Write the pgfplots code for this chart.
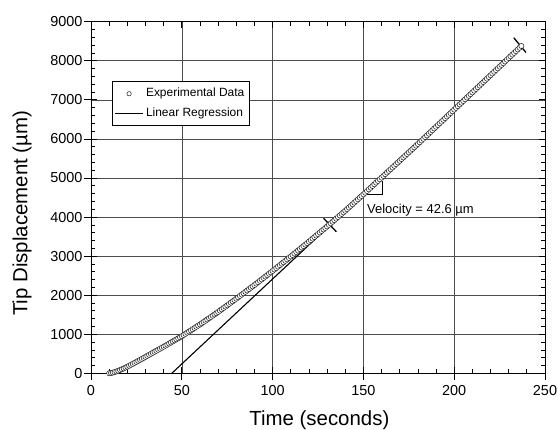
\documentclass[border=0pt]{standalone}
\usepackage{fontspec}
\setmainfont{Liberation Sans}
\usepackage{pgfplots}
\pgfplotsset{compat=1.18}
\begin{document}
\begin{tikzpicture}
\useasboundingbox (-91bp,-56.7bp) rectangle (467bp,373.3bp);
\begin{axis}[
  scale only axis, width=454bp, height=351.6bp,
  xmin=0, xmax=250, ymin=0, ymax=9000,
  xtick={0,50,...,250}, ytick={0,1000,...,9000},
  minor x tick num=4, minor y tick num=4,
  tick align=inside, major tick length=6bp, minor tick length=4bp,
  tick style={black, line width=0.7bp},
  axis line style={black, line width=0.9bp},
  grid=major, major grid style={black!70, line width=0.55bp},
  /pgf/number format/assume math mode=true,
  /pgf/number format/1000 sep={},
  tick label style={font=\fontsize{14.5}{16}\selectfont},
  yticklabel style={xshift=-5bp},
  xticklabel style={yshift=-8.5bp},
  xlabel={Time (seconds)}, ylabel={Tip Displacement (µm)},
  label style={font=\fontsize{20.5}{24}\selectfont},
  xlabel style={at={(axis description cs:0.503,-0.133)}, anchor=center},
  ylabel style={at={(axis description cs:-0.152,0.455)}, anchor=center},
  legend style={at={(rel axis cs:0.047,0.831)}, anchor=north west, draw=black, line width=0.6bp,
    font=\fontsize{12}{14}\selectfont, inner xsep=2bp, inner ysep=2.6bp, row sep=0bp, column sep=0bp,
    nodes={inner xsep=2.5bp, inner ysep=4bp, text height=8.9bp, text depth=2.5bp}},
  legend cell align=left,
]
\addplot[black, line width=1.1bp, forget plot] coordinates {(44.5,0) (238,8417)};
\addplot[only marks, mark=*, mark size=2.6bp, mark options={draw=black!85, fill=white, line width=0.55bp},
  legend image code/.code={\draw[mark repeat=2,mark phase=2,mark size=2.2bp] plot coordinates {(0bp,0bp) (14bp,0bp) (28bp,0bp)};}]
table {
t y
10 0
11 6
12 17
13 31
14 47
15 65
16 84
17 104
18 125
19 147
20 170
21 194
22 218
23 242
24 267
25 292
26 317
27 342
28 368
29 394
30 420
31 446
32 472
33 498
34 524
35 550
36 576
37 602
38 628
39 654
40 680
41 707
42 734
43 761
44 788
45 815
46 842
47 869
48 896
49 923
50 950
51 980
52 1010
53 1040
54 1070
55 1100
56 1130
57 1160
58 1190
59 1220
60 1250
61 1282
62 1314
63 1346
64 1378
65 1410
66 1442
67 1474
68 1506
69 1538
70 1570
71 1604
72 1638
73 1672
74 1706
75 1740
76 1774
77 1808
78 1842
79 1876
80 1910
81 1945
82 1980
83 2015
84 2050
85 2085
86 2120
87 2155
88 2190
89 2225
90 2260
91 2296
92 2332
93 2368
94 2404
95 2440
96 2476
97 2512
98 2548
99 2584
100 2620
101 2657
102 2694
103 2731
104 2768
105 2805
106 2842
107 2879
108 2916
109 2953
110 2990
111 3028
112 3066
113 3104
114 3142
115 3180
116 3218
117 3256
118 3294
119 3332
120 3370
121 3409
122 3448
123 3487
124 3526
125 3565
126 3604
127 3643
128 3682
129 3721
130 3760
131 3800
132 3840
133 3880
134 3920
135 3960
136 4000
137 4040
138 4080
139 4120
140 4160
141 4202
142 4244
143 4286
144 4328
145 4370
146 4412
147 4454
148 4496
149 4538
150 4580
151 4623
152 4666
153 4709
154 4752
155 4795
156 4838
157 4881
158 4924
159 4967
160 5010
161 5053
162 5096
163 5139
164 5182
165 5225
166 5268
167 5311
168 5354
169 5397
170 5440
171 5483
172 5526
173 5569
174 5612
175 5655
176 5698
177 5741
178 5784
179 5827
180 5870
181 5914
182 5958
183 6002
184 6046
185 6090
186 6134
187 6178
188 6222
189 6266
190 6310
191 6354
192 6398
193 6442
194 6486
195 6530
196 6574
197 6618
198 6662
199 6706
200 6750
201 6794
202 6838
203 6882
204 6926
205 6970
206 7014
207 7058
208 7102
209 7146
210 7190
211 7234
212 7278
213 7322
214 7366
215 7410
216 7454
217 7498
218 7542
219 7586
220 7630
221 7674
222 7718
223 7762
224 7806
225 7850
226 7894
227 7938
228 7982
229 8026
230 8070
231 8114
232 8158
233 8202
234 8246
235 8290
236 8334
237 8378
};
\addlegendentry{Experimental Data}
\addlegendimage{black, line width=0.9bp, legend image code/.code={\draw[black, line width=0.9bp] (0bp,0bp) -- (28bp,0bp);}}
\addlegendentry{Linear Regression}
\addplot[black, line width=1.2bp, forget plot] coordinates {(152,4580) (160.5,4580) (160.5,4930)};
\addplot[black, line width=1.3bp, forget plot] coordinates {(128.1,3967) (135.1,3624)};
\addplot[black, line width=1.3bp, forget plot] coordinates {(232.8,8590) (239.5,8213)};
\node[anchor=west, font=\fontsize{13}{15}\selectfont, inner sep=0pt] at (axis cs:152,4180) {Velocity = 42.6 µm};
\end{axis}
\begin{axis}[
  scale only axis, width=454bp, height=351.6bp,
  xmin=0, xmax=250, ymin=0, ymax=9000,
  xtick={0,50,...,250}, ytick={0,1000,...,9000},
  tick align=outside, major tick length=7bp,
  xtick pos=left, ytick pos=left,
  tick style={black, line width=0.7bp},
  xticklabel=\empty, yticklabel=\empty,
  axis line style={draw=none},
]
\end{axis}
\end{tikzpicture}
\end{document}
